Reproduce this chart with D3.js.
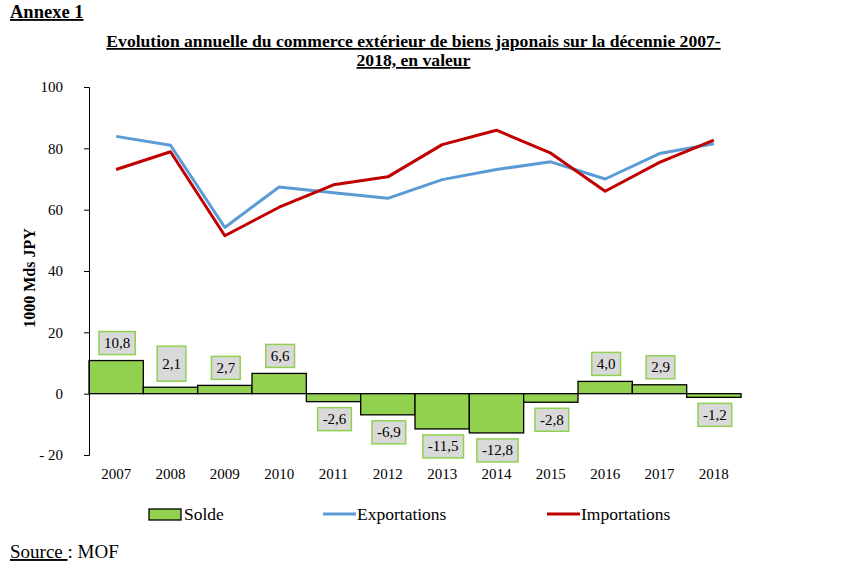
<!DOCTYPE html>
<html><head><meta charset="utf-8">
<script src="https://cdn.jsdelivr.net/npm/d3@7"></script>
<style>body{margin:0;background:#fff;} svg{display:block;font-family:"Liberation Serif","Times New Roman",serif;}</style>
</head><body>
<svg id="c" width="854" height="584"></svg>
<script>
const years = ["2007","2008","2009","2010","2011","2012","2013","2014","2015","2016","2017","2018"];
const exportations = [83.9,81.0,54.2,67.4,65.5,63.7,69.8,73.1,75.6,70.0,78.3,81.5];
const importations = [73.1,78.9,51.5,60.8,68.1,70.7,81.2,85.9,78.4,66.0,75.4,82.7];
const solde = [10.8,2.1,2.7,6.6,-2.6,-6.9,-11.5,-12.8,-2.8,4.0,2.9,-1.2];
const yTicks = [-20,0,20,40,60,80,100];

const svg = d3.select("#c");
const x = d3.scaleBand().domain(years).range([89,741]).padding(0);
const y = d3.scaleLinear().domain([-20,100]).range([455,87]);
const fmt = v => v.toFixed(1).replace(".", ",");

// Titles
svg.append("text").attr("x",10).attr("y",18).attr("font-size",18.5).attr("font-weight","bold")
  .attr("text-decoration","underline").text("Annexe 1");
svg.append("text").attr("x",413.5).attr("y",47).attr("text-anchor","middle").attr("font-size",17.6).attr("font-weight","bold")
  .attr("text-decoration","underline").text("Evolution annuelle du commerce extérieur de biens japonais sur la décennie 2007-");
svg.append("text").attr("x",413.5).attr("y",66).attr("text-anchor","middle").attr("font-size",17.6).attr("font-weight","bold")
  .attr("text-decoration","underline").text("2018, en valeur");

// Bars
svg.append("g").selectAll("rect").data(solde).join("rect")
  .attr("x",(d,i)=>x(years[i])).attr("width",x.bandwidth())
  .attr("y",d=>y(Math.max(0,d))).attr("height",d=>Math.abs(y(d)-y(0)))
  .attr("fill","#92d050").attr("stroke","#000").attr("stroke-width",1.3);

// Y axis
const ya = d3.axisLeft(y).tickValues(yTicks).tickSize(5).tickPadding(21)
  .tickFormat(d => d < 0 ? "- " + Math.abs(d) : String(d));
const gy = svg.append("g").attr("transform","translate(89,0)").call(ya);
gy.select(".domain").attr("stroke","#000").attr("stroke-width",1);
gy.selectAll(".tick line").attr("stroke","#000");
gy.selectAll("text").attr("font-size",15).attr("font-family","Liberation Serif").attr("fill","#000");

svg.append("text").attr("transform","translate(35,278) rotate(-90)").attr("text-anchor","middle")
  .attr("font-size",16).attr("font-weight","bold").text("1000 Mds JPY");

// X labels
svg.append("g").selectAll("text").data(years).join("text")
  .attr("x",d=>x(d)+x.bandwidth()/2).attr("y",479).attr("text-anchor","middle")
  .attr("font-size",15).text(d=>d);

// Lines
const line = arr => d3.line().x((d,i)=>x(years[i])+x.bandwidth()/2).y(d=>y(d))(arr);
svg.append("path").attr("d",line(exportations)).attr("fill","none").attr("stroke","#5b9bd5").attr("stroke-width",3).attr("stroke-linejoin","round");
svg.append("path").attr("d",line(importations)).attr("fill","none").attr("stroke","#c00000").attr("stroke-width",3).attr("stroke-linejoin","round");

// Data labels
const lg = svg.append("g");
solde.forEach((v,i)=>{
  const cx = x(years[i]) + x.bandwidth()/2 + 1;
  const t = lg.append("text").attr("font-size",15).attr("text-anchor","middle").text(fmt(v));
  const w = t.node().getComputedTextLength() + 10;
  const h = i===1 ? 35 : 23;
  const gap = 6;
  const top = v >= 0 ? y(v) - gap - h : y(v) + gap;
  lg.insert("rect","text").attr("x",cx - w/2).attr("y",top).attr("width",w).attr("height",h)
    .attr("fill","#d9d9d9").attr("stroke","#92d050").attr("stroke-width",1.5);
  t.attr("x",cx).attr("y",top + h/2 + 5);
});

// Legend
const ly = 514;
svg.append("rect").attr("x",149).attr("y",ly-5).attr("width",32).attr("height",11)
  .attr("fill","#92d050").attr("stroke","#000").attr("stroke-width",1.3);
svg.append("text").attr("x",184).attr("y",ly+6).attr("font-size",17.5).text("Solde");
svg.append("line").attr("x1",323).attr("x2",356).attr("y1",ly).attr("y2",ly).attr("stroke","#5b9bd5").attr("stroke-width",3);
svg.append("text").attr("x",357).attr("y",ly+6).attr("font-size",17.5).text("Exportations");
svg.append("line").attr("x1",547).attr("x2",580).attr("y1",ly).attr("y2",ly).attr("stroke","#c00000").attr("stroke-width",3);
svg.append("text").attr("x",581).attr("y",ly+6).attr("font-size",17.5).text("Importations");

// Source
const src = svg.append("text").attr("x",10).attr("y",558).attr("font-size",19);
src.append("tspan").attr("text-decoration","underline").text("Source ");
src.append("tspan").text(": MOF");
</script>
</body></html>
